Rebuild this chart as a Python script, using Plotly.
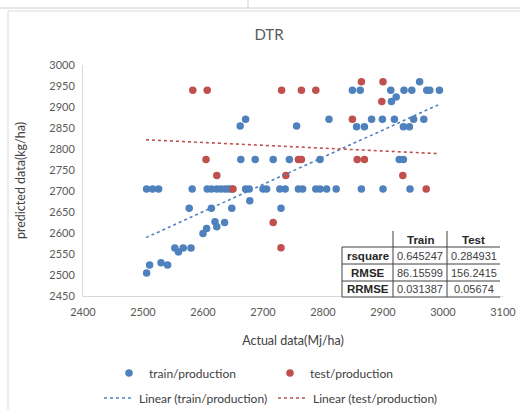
import plotly.graph_objects as go

# ---------------- data ----------------
train_x = [2506, 2516, 2526, 2582, 2607, 2614, 2623, 2630, 2637, 2643, 2648,
           2671, 2677, 2700, 2706, 2728, 2737, 2759, 2766, 2788, 2795, 2806, 2822,
           2864, 2900, 2945,
           2577, 2614, 2648, 2730, 2678,
           2620, 2636, 2623, 2600, 2606,
           2553, 2559, 2567, 2580,
           2511, 2530, 2541, 2506,
           2663, 2687, 2717, 2744, 2795, 2927, 2934,
           2671, 2662, 2756, 2810,
           2849, 2862, 2913, 2935, 2948, 2973, 2978, 2994, 2961,
           2914, 2922,
           2856, 2869, 2881, 2899, 2919, 2934, 2944, 2951, 2968]
train_y = [2705, 2705, 2705, 2705, 2705, 2705, 2705, 2705, 2705, 2705, 2705,
           2705, 2705, 2705, 2705, 2705, 2705, 2705, 2705, 2705, 2705, 2705, 2705,
           2705, 2705, 2705,
           2659, 2659, 2659, 2659, 2677,
           2627, 2625, 2615, 2599, 2611,
           2564, 2555, 2564, 2564,
           2524, 2529, 2524, 2505,
           2775, 2775, 2775, 2775, 2775, 2775, 2775,
           2871, 2855, 2855, 2871,
           2940, 2940, 2940, 2940, 2940, 2940, 2940, 2940, 2960,
           2913, 2924,
           2853, 2853, 2871, 2871, 2871, 2853, 2853, 2871, 2871]

test_x = [2583, 2607, 2731, 2764, 2788, 2864, 2900, 2898, 2849,
          2605, 2759, 2764, 2857, 2869, 2623, 2738, 2933, 2650, 2972, 2717, 2730]
test_y = [2940, 2940, 2940, 2940, 2940, 2960, 2960, 2913, 2871,
          2775, 2775, 2775, 2775, 2775, 2737, 2737, 2737, 2705, 2705, 2625, 2565]

# linear trendlines (x range and end values)
trend_x = [2505, 2992]
train_trend_y = [2589, 2905]
test_trend_y = [2822, 2789]

metric_names = ["rsquare", "RMSE", "RRMSE"]
train_metrics = [0.645247, 86.15599, 0.031387]
test_metrics = [0.284931, 156.2415, 0.05674]
table_header = ["Train", "Test"]

x_ticks = list(range(2400, 3101, 100))
y_ticks = list(range(2450, 3001, 50))

# ---------------- style ----------------
W, H = 520, 410
L, R, T, B = 83, 17, 65, 114
BLUE = "#4F81BD"
RED = "#C0504D"
GREY_TXT = "#595959"
FONT = "Lato"


def px(x):
    return (x - L) / (W - L - R)


def py(y):
    return (H - B - y) / (H - T - B)


fig = go.Figure()
fig.add_trace(go.Scatter(x=train_x, y=train_y, mode="markers", name="train/production",
                         marker=dict(color=BLUE, size=7.5), legend="legend"))
fig.add_trace(go.Scatter(x=test_x, y=test_y, mode="markers", name="test/production",
                         marker=dict(color=RED, size=7.5), legend="legend"))
fig.add_trace(go.Scatter(x=trend_x, y=train_trend_y, mode="lines",
                         name="Linear (train/production)",
                         line=dict(color=BLUE, width=1.6, dash="dot"), legend="legend2"))
fig.add_trace(go.Scatter(x=trend_x, y=test_trend_y, mode="lines",
                         name="Linear (test/production)",
                         line=dict(color=RED, width=1.6, dash="dot"), legend="legend2"))

shapes = []
ann = []

# screenshot frame lines
shapes.append(dict(type="line", xref="paper", yref="paper", x0=px(0), x1=px(520), y0=py(8), y1=py(8),
                   line=dict(color="#d0d0d0", width=1)))
shapes.append(dict(type="line", xref="paper", yref="paper", x0=px(248), x1=px(248), y0=py(0), y1=py(8),
                   line=dict(color="#d0d0d0", width=1)))
shapes.append(dict(type="line", xref="paper", yref="paper", x0=px(8), x1=px(520), y0=py(11), y1=py(11),
                   line=dict(color="#d9d9d9", width=1)))
shapes.append(dict(type="line", xref="paper", yref="paper", x0=px(8), x1=px(8), y0=py(11), y1=py(410),
                   line=dict(color="#d9d9d9", width=1)))

# table
tx0, tx1, tx2, tx3 = 342, 393, 447, 500
ty = [231, 247, 264, 281, 297]
shapes.append(dict(type="rect", xref="paper", yref="paper", x0=px(tx0), x1=px(tx3), y0=py(ty[4]), y1=py(ty[1]),
                   fillcolor="white", line=dict(width=0), layer="above"))
shapes.append(dict(type="rect", xref="paper", yref="paper", x0=px(tx1), x1=px(tx3), y0=py(ty[1]), y1=py(ty[0]),
                   fillcolor="white", line=dict(width=0), layer="above"))
LC = "#404040"
for yy in ty[1:]:
    shapes.append(dict(type="line", xref="paper", yref="paper", x0=px(tx0), x1=px(tx3), y0=py(yy), y1=py(yy),
                       line=dict(color=LC, width=1), layer="above"))
shapes.append(dict(type="line", xref="paper", yref="paper", x0=px(tx0), x1=px(tx0), y0=py(ty[1]), y1=py(ty[4]),
                   line=dict(color=LC, width=1), layer="above"))
for xx in (tx1, tx2):
    shapes.append(dict(type="line", xref="paper", yref="paper", x0=px(xx), x1=px(xx), y0=py(ty[0]), y1=py(ty[4]),
                       line=dict(color=LC, width=1), layer="above"))

TFONT = "Liberation Sans"
TS = 11
col_c = [(tx0 + tx1) / 2, (tx1 + tx2) / 2, (tx2 + tx3) / 2]
for j, hname in enumerate(table_header):
    ann.append(dict(xref="paper", yref="paper", x=px(col_c[j + 1]), y=py((ty[0] + ty[1]) / 2 + 0.5),
                    text="<b>%s</b>" % hname, showarrow=False, xanchor="center", yanchor="middle",
                    font=dict(family=TFONT, size=TS + 0.5, color="#262626")))
for i, name in enumerate(metric_names):
    yc = py((ty[i + 1] + ty[i + 2]) / 2)
    ann.append(dict(xref="paper", yref="paper", x=px(col_c[0]), y=yc, text="<b>%s</b>" % name,
                    showarrow=False, xanchor="center", yanchor="middle",
                    font=dict(family=TFONT, size=TS + 0.5, color="#262626")))
    ann.append(dict(xref="paper", yref="paper", x=px(col_c[1]), y=yc, text=str(train_metrics[i]),
                    showarrow=False, xanchor="center", yanchor="middle",
                    font=dict(family=TFONT, size=TS, color="#404040")))
    ann.append(dict(xref="paper", yref="paper", x=px(col_c[2]), y=yc, text=str(test_metrics[i]),
                    showarrow=False, xanchor="center", yanchor="middle",
                    font=dict(family=TFONT, size=TS, color="#404040")))

fig.update_layout(
    width=W, height=H,
    margin=dict(l=L, r=R, t=T, b=B, pad=0, autoexpand=False),
    paper_bgcolor="white", plot_bgcolor="white",
    font=dict(family=FONT, color=GREY_TXT, size=11),
    title=dict(text="DTR", x=269 / W, xref="container", xanchor="center",
               y=1 - 35 / H, yref="container", yanchor="middle",
               font=dict(family=FONT, size=15, color=GREY_TXT)),
    xaxis=dict(range=[2400, 3100], tickvals=x_ticks, showgrid=False, zeroline=False,
               showline=True, linecolor="#d9d9d9", linewidth=1, ticks="", automargin=False,
               ticklabelstandoff=6,
               tickfont=dict(family=FONT, size=11, color=GREY_TXT),
               title=dict(text="Actual data(Mj/ha)", standoff=19,
                          font=dict(family=FONT, size=12.5, color="#404040"))),
    yaxis=dict(range=[2450, 3000], tickvals=y_ticks, showgrid=False, zeroline=False,
               showline=True, linecolor="#d9d9d9", linewidth=1, ticks="", automargin=False,
               ticklabelstandoff=5,
               tickfont=dict(family=FONT, size=11, color=GREY_TXT),
               title=dict(text="predicted data(kg/ha)", standoff=20,
                          font=dict(family=FONT, size=12.5, color="#404040"))),
    legend=dict(orientation="h", xref="container", yref="container",
                x=109 / W, y=1 - 373 / H, xanchor="left", yanchor="middle",
                entrywidth=116, entrywidthmode="pixels", bgcolor="rgba(0,0,0,0)",
                font=dict(family=FONT, size=12, color="#404040"), itemclick=False),
    legend2=dict(orientation="h", xref="container", yref="container",
                 x=99 / W, y=1 - 398 / H, xanchor="left", yanchor="middle",
                 entrywidth=129, entrywidthmode="pixels", bgcolor="rgba(0,0,0,0)",
                 font=dict(family=FONT, size=12, color="#404040"), itemclick=False),
    shapes=shapes,
    annotations=ann,
    showlegend=True,
)

fig.write_html("out.html", config={"displayModeBar": False},
               post_script="document.body.style.margin='0px';")
